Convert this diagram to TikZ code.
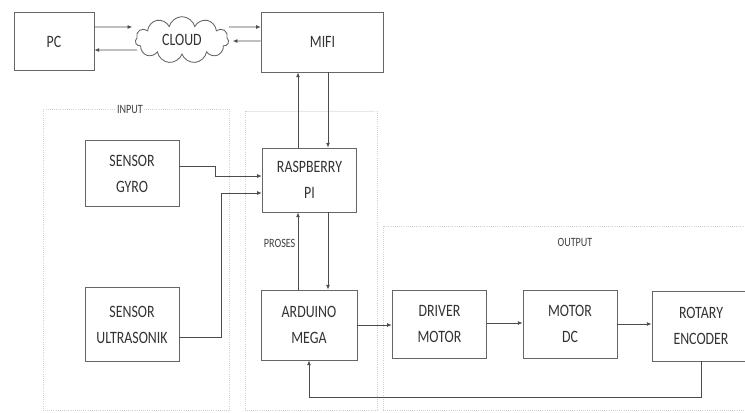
\documentclass[tikz,border=0pt]{standalone}
\usepackage{fontspec}
\newfontfamily\blokfont[FakeStretch=0.8]{Carlito}
\usetikzlibrary{arrows.meta,calc,shapes.symbols}

\tikzset{
  blok/.style={draw=black!60, line width=0.65pt, fill=white, align=center,
    inner sep=0pt, text=black!80, font=\blokfont\fontsize{13}{19.5}\selectfont},
  garis/.style={draw=black!70, line width=0.6pt},
  panah/.style={garis, -{Latex[length=3.5pt,width=3pt]}},
  bingkai/.style={draw=black!18, line width=0.6pt, densely dotted},
  judul/.style={text=black!75, inner sep=1pt, font=\blokfont\fontsize{9.5}{10}\selectfont}
}

\begin{document}
\begin{tikzpicture}[x=0.75pt, y=-0.75pt]

\useasboundingbox (0,0) rectangle (745,412);

% Bingkai input, proses, output
\draw[bingkai] (43,109) rectangle (229,410);
\node[judul, fill=white] (input) at (130,109) {INPUT};
\draw[bingkai] (245,111) rectangle (377,410);
\draw[draw=yellow!50!olive!25, line width=0.6pt] (247,111) -- (375,111);
\draw[bingkai] (383,226) rectangle (760,410);
\node[judul] (output) at (575,242) {OUTPUT};

% Baris atas
\node[blok, minimum width=60pt, minimum height=44pt] (pc) at (54,41.5) {PC};
\node[blok, cloud, cloud puffs=11, aspect=2.2, minimum width=70pt,
  minimum height=35pt] (cloud) at (182,40) {CLOUD};
\node[blok, minimum width=92pt, minimum height=45pt] (mifi) at (322.5,42) {MIFI};

% Input
\node[blok, minimum width=70.5pt, minimum height=49pt] (gyro) at (132,173.5) {SENSOR\\GYRO};
\node[blok, minimum width=70.5pt, minimum height=55pt] (ultra) at (132,324.5) {SENSOR\\ULTRASONIK};

% Proses
\node[blok, minimum width=71pt, minimum height=48pt] (rpi) at (309.5,180) {RASPBERRY\\PI};
\node[blok, minimum width=72pt, minimum height=52.5pt] (arduino) at (309,325) {ARDUINO\\MEGA};
\node[judul, anchor=east] (proses) at ($(arduino.north)+(-12,-46)$) {PROSES};

% Output
\node[blok, minimum width=71pt, minimum height=51pt] (driver) at (439.5,324) {DRIVER\\MOTOR};
\node[blok, minimum width=70.5pt, minimum height=51pt] (motor) at (570,324) {MOTOR\\DC};
\node[blok, minimum width=73.5pt, minimum height=52.5pt] (rotary) at (701,326) {ROTARY\\ENCODER};

% Panah baris atas
\draw[panah] ($(pc.east)+(0,-14.5)$) -- ($(cloud.west)+(-3,-13)$);
\draw[panah] ($(cloud.west)+(2,10)$) -- ($(pc.east)+(0,8.5)$);
\draw[panah] ($(cloud.east)+(0,-13)$) -- ($(mifi.west)+(0,-15)$);
\draw[panah] ($(mifi.west)+(0,-1)$) -- ($(cloud.east)+(4,1)$);

% MIFI <-> Raspberry
\coordinate (r1) at ($(rpi.north)+(-11.5,0)$);
\coordinate (r2) at ($(rpi.north)+(18.5,0)$);
\draw[panah] (r1) -- (r1 |- mifi.south);
\draw[panah] (r2 |- mifi.south) -- (r2);

% Sensor ke Raspberry
\draw[panah] ($(gyro.east)+(0,-7.5)$) -- ++(36,0) |- ($(rpi.west)+(0,-4)$);
\draw[panah] ($(ultra.east)+(0,12.5)$) -- ++(42,0) |- ($(rpi.west)+(0,13)$);

% Raspberry <-> Arduino
\coordinate (a1) at ($(arduino.north)+(-11,0)$);
\coordinate (a2) at ($(arduino.north)+(19,0)$);
\draw[panah] (a1) -- (a1 |- rpi.south);
\draw[panah] (a2 |- rpi.south) -- (a2);

% Rantai output
\draw[panah] (arduino.east) -- (arduino.east -| driver.west);
\draw[panah] ($(driver.east)+(0,-1)$) -- ($(motor.west)+(0,-1)$);
\draw[panah] (motor.east) -- (motor.east -| rotary.west);
\draw[panah] (rotary.south) -- ++(0,36) -| (arduino.south);

\end{tikzpicture}
\end{document}
